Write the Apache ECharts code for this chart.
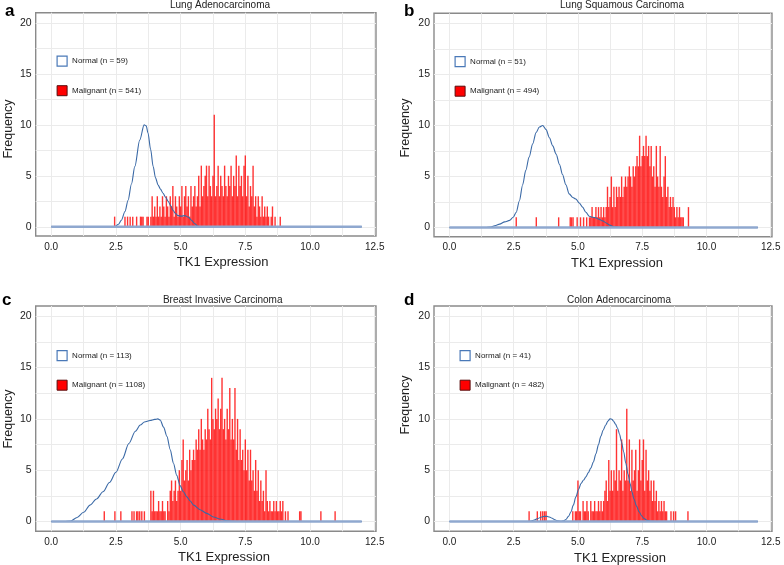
<!DOCTYPE html>
<html><head><meta charset="utf-8">
<script src="https://cdn.jsdelivr.net/npm/echarts@6/dist/echarts.min.js"></script>
<style>html,body{margin:0;padding:0;background:#fff}#chart{width:784px;height:565px}</style>
</head><body><div id="chart"></div>
<script>
// ---------- data ----------
const panelLetters = ['a', 'b', 'c', 'd'];
const panelTitles = ['Lung Adenocarcinoma', 'Lung Squamous Carcinoma', 'Breast Invasive Carcinoma', 'Colon Adenocarcinoma'];
const normalLabels = ['Normal (n = 59)', 'Normal (n = 51)', 'Normal (n = 113)', 'Normal (n = 41)'];
const malignantLabels = ['Malignant (n = 541)', 'Malignant (n = 494)', 'Malignant (n = 1108)', 'Malignant (n = 482)'];
const xAxisTitle = 'TK1 Expression';
const yAxisTitle = 'Frequency';
const xGridValues = [0, 1.25, 2.5, 3.75, 5, 6.25, 7.5, 8.75, 10, 11.25, 12.5];
const xTickLabels = [0, 2.5, 5, 7.5, 10, 12.5];
const yGridValues = [0, 2.5, 5, 7.5, 10, 12.5, 15, 17.5, 20];
const yTickLabels = [0, 5, 10, 15, 20];
const binStep = 0.05;

// Panel a – malignant histogram counts (bins of 0.05 from aBinStart)
const aBinStart = 2.45;
const aCounts = [1,0,0,0,0,0,0,0,1,0,1,0,1,0,1,0,0,1,0,0,1,1,1,0,0,1,1,0,1,3,
  1,2,1,3,1,2,1,3,2,1,3,2,1,3,2,4,1,3,2,1,3,2,4,1,3,4,2,3,1,4,
  2,3,4,2,3,5,2,6,3,4,5,6,3,6,4,3,5,11,3,4,6,3,5,4,3,6,4,3,5,4,
  6,3,5,4,7,3,6,4,5,3,6,7,3,5,2,4,3,6,2,3,1,3,2,1,3,1,2,1,2,1,
  0,1,2,0,1,0,0,0,1,0];
const aSparse = [];
const aCurve = [[0,0],[2.3,0],[2.46,0.02],[2.6,0.25],[2.71,0.65],[2.85,1.5],[2.97,2.6],[3.1,4.2],[3.23,5.9],[3.42,8.5],[3.59,10],[3.67,9.9],[3.74,9.2],[3.84,7.6],[3.94,5.9],[4.03,4.8],[4.13,4.1],[4.22,3.7],[4.32,3.3],[4.42,2.9],[4.52,2.5],[4.62,2.05],[4.71,1.6],[4.8,1.3],[4.9,1.1],[5.03,1.05],[5.16,1.1],[5.3,0.95],[5.42,0.65],[5.55,0.3],[5.67,0.05],[5.8,0],[12,0]];

// Panel b
const bBinStart = 5.45;
const bCounts = [1,1,2,1,1,2,1,2,1,2,1,2,1,2,4,2,3,5,2,4,2,4,3,4,3,5,3,4,5,4,
  5,6,5,4,6,5,6,7,6,9,6,7,8,7,9,7,8,6,8,5,6,4,8,5,4,8,4,3,5,7,
  3,4,2,3,2,3,2,1,2,1,2,1,1,1,0,0,0,2];
const bSparse = [[2.6,1],[3.38,1],[4.25,1],[4.7,1],[4.75,1],[4.81,1],[4.97,1],[5.1,1],[5.22,1],[5.34,1]];
const bCurve = [[0,0],[1.4,0],[1.6,0.05],[1.8,0.2],[1.95,0.33],[2.15,0.55],[2.34,0.7],[2.48,1.0],[2.6,1.5],[2.72,2.6],[2.85,4.2],[2.97,5.6],[3.1,6.9],[3.24,8.2],[3.37,9.3],[3.5,9.85],[3.63,10],[3.76,9.6],[3.89,8.8],[4.02,8.0],[4.15,7.2],[4.28,6.2],[4.4,5.2],[4.53,4.2],[4.66,3.3],[4.8,2.95],[4.92,2.8],[5.05,2.4],[5.18,2.0],[5.31,1.5],[5.44,1.1],[5.57,1.0],[5.7,0.95],[5.83,0.8],[5.96,0.65],[6.1,0.45],[6.21,0.26],[6.35,0.12],[6.47,0.05],[6.7,0],[12,0]];

// Panel c
const cBinStart = 3.85;
const cCounts = [3,1,3,1,1,1,2,1,1,2,1,1,0,2,1,3,4,2,3,4,2,3,5,3,6,8,4,5,6,4,
  7,5,6,7,6,8,7,9,7,10,8,7,9,8,11,9,8,14,10,9,11,10,12,9,11,14,9,10,8,11,
  9,13,8,10,8,13,7,10,6,9,6,7,5,8,5,7,4,7,4,5,3,6,3,5,2,4,2,3,1,5,
  2,1,2,1,1,2,1,2,1,1,2,1,2,0,1,0,1];
const cSparse = [[2.05,1],[2.46,1],[2.69,1],[3.12,1],[3.2,1],[3.3,1],[3.35,1],[3.42,1],[3.5,1],[3.6,1],[9.6,1],[9.65,1],[10.42,1],[10.97,1]];
const cCurve = [[0,0],[0.5,0],[0.75,0.05],[1.0,0.4],[1.25,0.9],[1.5,1.6],[1.75,2.2],[2.0,2.9],[2.25,3.8],[2.5,4.8],[2.75,6.1],[3.0,7.6],[3.25,8.8],[3.44,9.4],[3.6,9.7],[3.82,9.85],[4.0,9.95],[4.12,10],[4.21,9.9],[4.34,9.2],[4.47,8.3],[4.6,7.0],[4.72,5.7],[4.85,4.5],[4.98,3.5],[5.11,2.9],[5.24,2.4],[5.37,2.0],[5.5,1.6],[5.75,1.15],[6.01,0.8],[6.27,0.45],[6.52,0.25],[6.78,0.08],[7.04,0.02],[7.3,0],[12,0]];

// Panel d
const dBinStart = 4.80;
const dCounts = [1,0,1,1,4,1,1,0,2,1,1,2,1,0,2,1,1,2,1,1,2,1,2,1,2,3,4,2,6,3,
  5,3,5,4,9,3,5,4,8,3,5,4,11,4,8,3,7,4,5,7,3,5,8,4,6,8,3,7,4,5,
  3,4,2,4,2,3,1,2,1,2,1,2,1,1,0];
const dSparse = [[3.1,1],[3.42,1],[3.55,1],[3.63,1],[3.7,1],[3.76,1],[8.62,1],[8.72,1],[8.8,1],[9.28,1]];
const dCurve = [[0,0],[3.0,0],[3.18,0.05],[3.3,0.15],[3.44,0.3],[3.56,0.42],[3.69,0.5],[3.8,0.5],[3.89,0.45],[4.0,0.32],[4.08,0.2],[4.2,0.08],[4.34,0.03],[4.45,0.08],[4.53,0.2],[4.63,0.5],[4.73,0.95],[4.82,1.6],[4.92,2.4],[5.02,3.1],[5.12,3.7],[5.22,4.05],[5.31,4.35],[5.4,4.75],[5.5,5.2],[5.6,5.8],[5.7,6.6],[5.8,7.5],[5.89,8.3],[5.98,8.9],[6.08,9.4],[6.17,9.8],[6.25,10],[6.32,9.97],[6.38,9.8],[6.46,9.5],[6.54,9.1],[6.62,8.5],[6.69,7.8],[6.78,6.8],[6.86,5.7],[6.95,4.6],[7.03,3.7],[7.1,2.9],[7.18,2.2],[7.28,1.5],[7.38,0.95],[7.48,0.55],[7.57,0.3],[7.7,0.1],[7.83,0.03],[8.0,0],[12,0]];

const baselineExtent = [0, 12];

// ---------- layout ----------
const binStarts = [aBinStart, bBinStart, cBinStart, dBinStart];
const countsList = [aCounts, bCounts, cCounts, dCounts];
const sparseList = [aSparse, bSparse, cSparse, dSparse];
const curveList = [aCurve, bCurve, cCurve, dCurve];

const gridBoxes = [
  {left: 35.7, top: 12.7, width: 340.3, height: 223.3},
  {left: 434, top: 13.3, width: 338, height: 223.4},
  {left: 35.7, top: 306, width: 340.3, height: 225.3},
  {left: 434, top: 306, width: 338, height: 225.3}
];
const yMins = [-0.9, -0.9, -0.95, -0.95];
const legendPos = [{left: 56.5, top: 55.5}, {left: 454.5, top: 56}, {left: 56.5, top: 350}, {left: 459.5, top: 350}];
const letterPos = [[5, 11], [404, 11], [2, 300], [404, 300.5]];
const titlePos = [[220, 5.5], [622, 5.5], [222.7, 300.5], [619, 300.5]];
const xNamePos = [[222.7, 262.7], [617, 263.3], [224, 557], [620, 558.5]];
const yNamePos = [[8.5, 129], [406, 128], [8.5, 419], [406, 405]];

const FONT = '"Liberation Sans", Arial, Helvetica, sans-serif';
const gridColor = '#ebebeb';
const labelColor = '#222';
const curveColor = '#3a69a6';
const barColor = 'rgba(255,0,0,0.8)';

const grid = [], xAxis = [], yAxis = [], series = [], legend = [], graphic = [];

for (let p = 0; p < 4; p++) {
  grid.push(Object.assign({show: true, borderColor: '#8a8a8a', borderWidth: 1.4, backgroundColor: '#fff'}, gridBoxes[p]));
  xAxis.push({
    type: 'value', gridIndex: p, min: -0.6, max: 12.55,
    axisLine: {show: false},
    axisTick: {show: false, customValues: xGridValues},
    splitLine: {show: true, lineStyle: {color: gridColor, width: 1}},
    axisLabel: {customValues: xTickLabels, formatter: v => v.toFixed(1), color: labelColor, fontSize: 10, fontFamily: FONT, margin: 6}
  });
  yAxis.push({
    type: 'value', gridIndex: p, min: yMins[p], max: 21,
    axisLine: {show: false},
    axisTick: {show: false, customValues: yGridValues},
    splitLine: {show: true, lineStyle: {color: gridColor, width: 1}},
    axisLabel: {customValues: yTickLabels, color: labelColor, fontSize: 10.5, fontFamily: FONT, margin: 4}
  });

  const start = binStarts[p];
  const barData = sparseList[p].map(d => [d[0], d[1]])
    .concat(countsList[p].map((c, i) => [+(start + i * binStep).toFixed(3), c]).filter(d => d[1] > 0));
  series.push({
    name: malignantLabels[p], type: 'bar', xAxisIndex: p, yAxisIndex: p,
    data: barData, barWidth: 1.4, barGap: '-100%',
    itemStyle: {color: barColor}, z: 2, silent: true, animation: false
  });
  series.push({
    name: normalLabels[p], type: 'line', xAxisIndex: p, yAxisIndex: p,
    data: curveList[p], smooth: 0.3, smoothMonotone: 'x', showSymbol: false, symbol: 'none',
    lineStyle: {color: curveColor, width: 1.1}, itemStyle: {color: '#fff', borderColor: curveColor},
    z: 3, silent: true, animation: false
  });
  series.push({
    name: 'baseline' + p, type: 'line', xAxisIndex: p, yAxisIndex: p,
    data: [[baselineExtent[0], 0], [baselineExtent[1], 0]], showSymbol: false, symbol: 'none',
    lineStyle: {color: '#8fa8cf', width: 2.4}, z: 4, silent: true, animation: false
  });

  legend.push({
    left: legendPos[p].left, top: legendPos[p].top, orient: 'vertical', padding: 0,
    itemWidth: 10, itemHeight: 10, itemGap: 18.5, selectedMode: false,
    textStyle: {fontSize: 8, color: '#222', fontFamily: FONT},
    data: [
      {name: normalLabels[p], icon: 'rect', itemStyle: {color: '#fff', borderColor: '#4a79b8', borderWidth: 1.2}},
      {name: malignantLabels[p], icon: 'rect', itemStyle: {color: '#ff0000', borderColor: '#5a0d0d', borderWidth: 1}}
    ]
  });

  graphic.push({type: 'text', x: letterPos[p][0], y: letterPos[p][1],
    style: {text: panelLetters[p], font: 'bold 17px ' + FONT, fill: '#000', textAlign: 'left', textVerticalAlign: 'middle'}});
  graphic.push({type: 'text', x: titlePos[p][0], y: titlePos[p][1],
    style: {text: panelTitles[p], font: '10px ' + FONT, fill: '#222', textAlign: 'center', textVerticalAlign: 'middle'}});
  graphic.push({type: 'text', x: xNamePos[p][0], y: xNamePos[p][1],
    style: {text: xAxisTitle, font: '13px ' + FONT, fill: '#222', textAlign: 'center', textVerticalAlign: 'middle'}});
  graphic.push({type: 'text', x: yNamePos[p][0], y: yNamePos[p][1], rotation: Math.PI / 2,
    style: {text: yAxisTitle, font: '12.5px ' + FONT, fill: '#222', textAlign: 'center', textVerticalAlign: 'middle'}});
}

const chart = echarts.init(document.getElementById('chart'), null, {renderer: 'canvas'});
chart.setOption({backgroundColor: '#fff', animation: false, grid, xAxis, yAxis, series, legend, graphic});
</script>
</body></html>
